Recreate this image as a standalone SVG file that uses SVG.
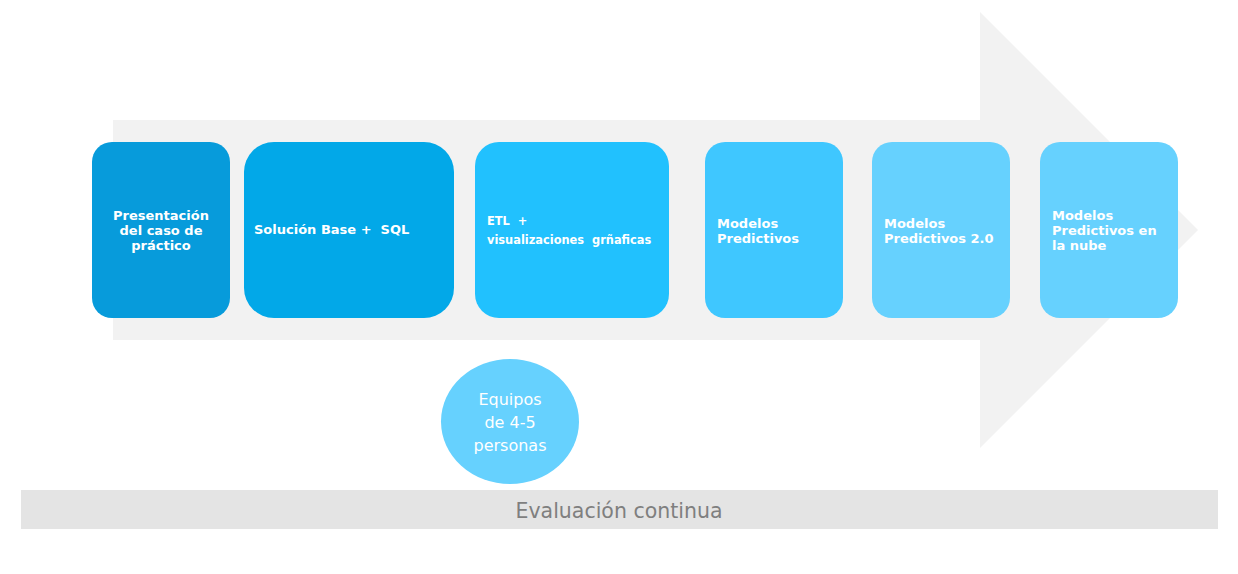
<svg xmlns="http://www.w3.org/2000/svg" width="1238" height="574" viewBox="0 0 1238 574">
<style>
.lbl{font-family:"DejaVu Sans","Liberation Sans",sans-serif;font-weight:bold;font-size:13px;fill:#FFFFFF}
.sm{font-size:11.4px}
.circ{font-family:"DejaVu Sans","Liberation Sans",sans-serif;font-size:16px;fill:#FFFFFF}
.ev{font-family:"DejaVu Sans","Liberation Sans",sans-serif;font-size:20.5px;fill:#7F7F7F}
</style>
<rect width="1238" height="574" fill="#FFFFFF"/>
<g id="arrow">
<polygon points="113,120 980,120 980,12 1198,230 980,448 980,340 113,340" fill="#F2F2F2"/>
</g>
<g id="connectors"></g>
<g id="n1">
<rect x="92" y="142" width="138" height="176" rx="20" fill="#079BDB"/>
<text class="lbl" text-anchor="middle" x="161" y="220">Presentación</text>
<text class="lbl" text-anchor="middle" x="161" y="235">del caso de</text>
<text class="lbl" text-anchor="middle" x="161" y="250">práctico</text>
</g>
<g id="n2">
<rect x="244" y="142" width="210" height="176" rx="30" fill="#02A8E8"/>
<text class="lbl" x="254" y="234" xml:space="preserve">Solución Base +  SQL</text>
</g>
<g id="n3">
<rect x="475" y="142" width="194" height="176" rx="24" fill="#21C1FE"/>
<text class="lbl sm" x="487" y="225" xml:space="preserve">ETL  +</text>
<text class="lbl sm" x="487" y="244" xml:space="preserve">visualizaciones  grñaficas</text>
</g>
<g id="n4">
<rect x="705" y="142" width="138" height="176" rx="20" fill="#3FC7FF"/>
<text class="lbl" x="717" y="228">Modelos</text>
<text class="lbl" x="717" y="243">Predictivos</text>
</g>
<g id="n5">
<rect x="872" y="142" width="138" height="176" rx="20" fill="#66D1FE"/>
<text class="lbl" x="884" y="228">Modelos</text>
<text class="lbl" x="884" y="243">Predictivos 2.0</text>
</g>
<g id="n6">
<rect x="1040" y="142" width="138" height="176" rx="20" fill="#66D1FE"/>
<text class="lbl" x="1052" y="220">Modelos</text>
<text class="lbl" x="1052" y="235">Predictivos en</text>
<text class="lbl" x="1052" y="250">la nube</text>
</g>
<g id="teams">
<ellipse cx="510" cy="421.5" rx="69" ry="62.5" fill="#66D1FE"/>
<text class="circ" text-anchor="middle" x="510" y="405">Equipos</text>
<text class="circ" text-anchor="middle" x="510" y="428">de 4-5</text>
<text class="circ" text-anchor="middle" x="510" y="451">personas</text>
</g>
<g id="evaluation">
<rect x="21" y="490" width="1197" height="39" fill="#E4E4E4"/>
<text class="ev" text-anchor="middle" x="619" y="518">Evaluación continua</text>
</g>
</svg>
